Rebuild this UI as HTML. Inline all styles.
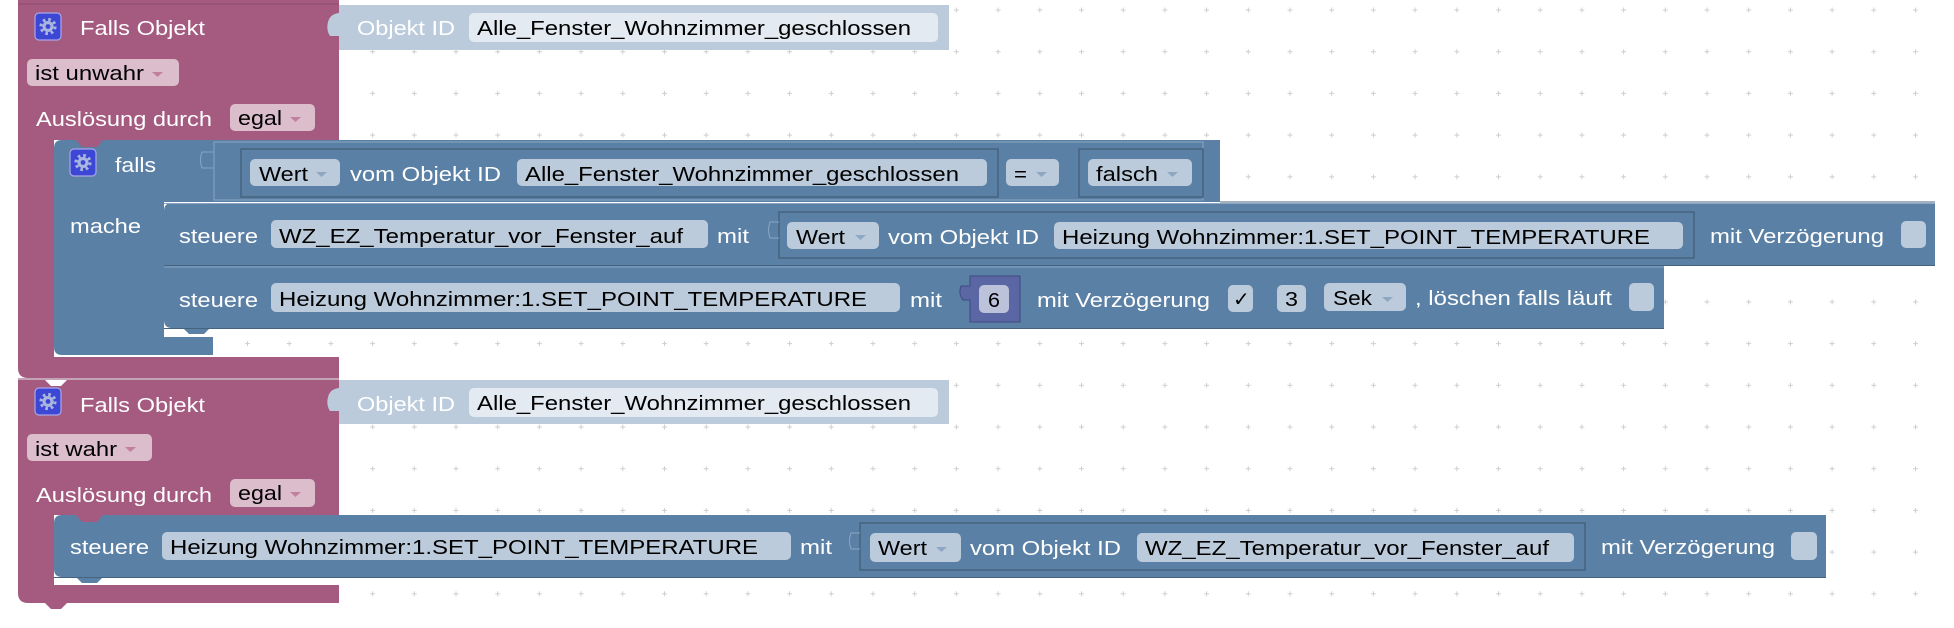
<!DOCTYPE html>
<html><head><meta charset="utf-8"><style>
html,body{margin:0;padding:0;background:#fff;}
svg{display:block;}
text{font-family:"Liberation Sans",Arial,sans-serif;font-size:20px;}
.w{fill:#fff;} .b{fill:#000;}
</style></head><body>
<svg width="1954" height="628" viewBox="0 0 1954 628" xmlns="http://www.w3.org/2000/svg">
<defs>
<pattern id="g" x="18.15" y="-10.85" width="41.7" height="41.7" patternUnits="userSpaceOnUse">
<path d="M18.35 20.85h5M20.85 18.35v5" stroke="#cfcfcf" stroke-width="1"/>
</pattern>
<g id="gear">
<rect x="0" y="0" width="26" height="27" rx="4" fill="#3d47d6" stroke="#a9a6e8" stroke-width="1.2"/>
<circle cx="13" cy="13.5" r="7" fill="none" stroke="#a9b6de" stroke-width="3.2" stroke-dasharray="2.6 2.9"/>
<circle cx="13" cy="13.5" r="5.5" fill="#a9b6de"/>
<circle cx="13" cy="13.5" r="2.4" fill="#3d47d6"/>
</g>
</defs>
<rect width="1954" height="628" fill="#fff"/>
<rect width="1954" height="628" fill="url(#g)"/>

<!-- ===== Block 1 pink ===== -->
<path d="M18 0H339V140H54V357H339V378H28Q18 378 18 368Z" fill="#a55b80"/>
<line x1="18" y1="4" x2="339" y2="4" stroke="#8a4a6a" stroke-width="1"/>
<use href="#gear" x="35" y="13"/>
<text class="w" x="80" y="35" textLength="125" lengthAdjust="spacingAndGlyphs">Falls Objekt</text>
<!-- objekt id -->
<path d="M339 5H949V50H339V36H330Q326 30 328 22Q330 14 339 13Z" fill="#bccbdb"/>
<text class="w" x="357" y="35" textLength="98" lengthAdjust="spacingAndGlyphs">Objekt ID</text>
<rect x="469" y="13" width="469" height="29" rx="5" fill="#e4eaf1"/>
<text class="b" x="477" y="35" textLength="434" lengthAdjust="spacingAndGlyphs">Alle_Fenster_Wohnzimmer_geschlossen</text>
<rect x="27" y="59" width="152" height="27" rx="5" fill="#dbbdcc"/>
<text class="b" x="35" y="80" textLength="109" lengthAdjust="spacingAndGlyphs">ist unwahr</text>
<path d="M152 72h11l-5.5 5z" fill="#c2809f"/>
<text class="w" x="36" y="126" textLength="176" lengthAdjust="spacingAndGlyphs">Auslösung durch</text>
<rect x="230" y="104" width="85" height="27" rx="5" fill="#dbbdcc"/>
<text class="b" x="238" y="125" textLength="44" lengthAdjust="spacingAndGlyphs">egal</text>
<path d="M290 117h11l-5.5 5z" fill="#c2809f"/>

<!-- falls block -->
<path d="M62 140H1220V202H164V337H213V355H62Q54 355 54 347V148Q54 140 62 140Z" fill="#5b80a5"/>
<path d="M76 140h27l-6 7h-15z" fill="#a55b80"/>
<use href="#gear" x="70" y="149"/>
<text class="w" x="115" y="172" textLength="41" lengthAdjust="spacingAndGlyphs">falls</text>
<text class="w" x="70" y="233" textLength="71" lengthAdjust="spacingAndGlyphs">mache</text>
<!-- compare -->
<rect x="214" y="142" width="989" height="58" fill="#5b80a5" stroke="#8aa6c3" stroke-width="1"/>
<path d="M213 152h-11q-3 8 0 16h11" fill="none" stroke="#8aa6c3" stroke-width="1"/>
<rect x="241" y="149" width="757" height="48" fill="#5b80a5" stroke="#46637f" stroke-width="1.5"/>
<rect x="250" y="159" width="90" height="27" rx="5" fill="#bccbdb"/>
<text class="b" x="259" y="181" textLength="49" lengthAdjust="spacingAndGlyphs">Wert</text>
<path d="M316 172h11l-5.5 5z" fill="#8ea7c2"/>
<text class="w" x="350" y="181" textLength="151" lengthAdjust="spacingAndGlyphs">vom Objekt ID</text>
<rect x="517" y="159" width="470" height="27" rx="5" fill="#bccbdb"/>
<text class="b" x="525" y="181" textLength="434" lengthAdjust="spacingAndGlyphs">Alle_Fenster_Wohnzimmer_geschlossen</text>
<rect x="1006" y="159" width="53" height="27" rx="5" fill="#bccbdb"/>
<text class="b" x="1014" y="181" textLength="13" lengthAdjust="spacingAndGlyphs">=</text>
<path d="M1036 172h11l-5.5 5z" fill="#8ea7c2"/>
<rect x="1079" y="149" width="124" height="48" fill="#5b80a5" stroke="#46637f" stroke-width="1.5"/>
<rect x="1088" y="159" width="104" height="27" rx="5" fill="#bccbdb"/>
<text class="b" x="1096" y="181" textLength="62" lengthAdjust="spacingAndGlyphs">falsch</text>
<path d="M1167 172h11l-5.5 5z" fill="#8ea7c2"/>

<!-- steuere 1 -->
<path d="M172 203H1935V266H164V211Q164 203 172 203Z" fill="#5b80a5"/>
<line x1="164" y1="203.5" x2="1935" y2="203.5" stroke="#8aa6c3" stroke-width="1"/>
<line x1="1220" y1="202" x2="1935" y2="202" stroke="#46637f" stroke-width="1"/>
<text class="w" x="179" y="243" textLength="79" lengthAdjust="spacingAndGlyphs">steuere</text>
<rect x="271" y="220" width="437" height="28" rx="5" fill="#bccbdb"/>
<text class="b" x="279" y="243" textLength="404" lengthAdjust="spacingAndGlyphs">WZ_EZ_Temperatur_vor_Fenster_auf</text>
<text class="w" x="717" y="243" textLength="32" lengthAdjust="spacingAndGlyphs">mit</text>
<rect x="779" y="212" width="915" height="46" fill="#5b80a5" stroke="#46637f" stroke-width="1.5"/>
<path d="M779 222h-9q-3 8 0 16h9" fill="none" stroke="#8aa6c3" stroke-width="1"/>
<rect x="787" y="222" width="92" height="27" rx="5" fill="#bccbdb"/>
<text class="b" x="796" y="244" textLength="49" lengthAdjust="spacingAndGlyphs">Wert</text>
<path d="M855 235h11l-5.5 5z" fill="#8ea7c2"/>
<text class="w" x="888" y="244" textLength="151" lengthAdjust="spacingAndGlyphs">vom Objekt ID</text>
<rect x="1054" y="222" width="629" height="27" rx="5" fill="#bccbdb"/>
<text class="b" x="1062" y="244" textLength="588" lengthAdjust="spacingAndGlyphs">Heizung Wohnzimmer:1.SET_POINT_TEMPERATURE</text>
<text class="w" x="1710" y="243" textLength="174" lengthAdjust="spacingAndGlyphs">mit Verzögerung</text>
<rect x="1901" y="221" width="25" height="27" rx="5" fill="#bccbdb"/>
<line x1="164" y1="265.5" x2="1935" y2="265.5" stroke="#46637f" stroke-width="1"/>

<!-- steuere 2 -->
<path d="M164 266H1664V328H210l-6 6h-15l-6-6H172Q164 328 164 320Z" fill="#5b80a5"/>
<line x1="164" y1="267" x2="1664" y2="267" stroke="#8aa6c3" stroke-width="1"/>
<text class="w" x="179" y="307" textLength="79" lengthAdjust="spacingAndGlyphs">steuere</text>
<rect x="271" y="283" width="629" height="29" rx="5" fill="#bccbdb"/>
<text class="b" x="279" y="306" textLength="588" lengthAdjust="spacingAndGlyphs">Heizung Wohnzimmer:1.SET_POINT_TEMPERATURE</text>
<text class="w" x="910" y="307" textLength="32" lengthAdjust="spacingAndGlyphs">mit</text>
<path d="M970 276H1020V322H970V300H963Q958 294 961 286H970Z" fill="#5b67a5" stroke="#3f4a80" stroke-width="1"/>
<rect x="979" y="285" width="30" height="28" rx="5" fill="#bdc2db"/>
<text class="b" x="988" y="307" textLength="12" lengthAdjust="spacingAndGlyphs">6</text>
<text class="w" x="1037" y="307" textLength="173" lengthAdjust="spacingAndGlyphs">mit Verzögerung</text>
<rect x="1228" y="285" width="25" height="27" rx="5" fill="#bccbdb"/>
<text class="b" x="1233" y="306" font-size="20">✓</text>
<rect x="1277" y="285" width="29" height="27" rx="5" fill="#bccbdb"/>
<text class="b" x="1285" y="306" textLength="13" lengthAdjust="spacingAndGlyphs">3</text>
<rect x="1324" y="283" width="82" height="28" rx="5" fill="#bccbdb"/>
<text class="b" x="1333" y="305" textLength="39" lengthAdjust="spacingAndGlyphs">Sek</text>
<path d="M1382 297h11l-5.5 5z" fill="#8ea7c2"/>
<text class="w" x="1415" y="305" textLength="197" lengthAdjust="spacingAndGlyphs">, löschen falls läuft</text>
<rect x="1629" y="283" width="25" height="28" rx="5" fill="#bccbdb"/>
<line x1="164" y1="328.5" x2="1664" y2="328.5" stroke="#46637f" stroke-width="1"/>

<!-- ===== Block 2 pink ===== -->
<path d="M18 380H45l6 6h10l6-6H339V515H54V585H339V603H67l-6 6h-10l-6-6H28Q18 603 18 593Z" fill="#a55b80"/>
<line x1="18" y1="379" x2="339" y2="379" stroke="#8a4a6a" stroke-width="1"/>
<use href="#gear" x="35" y="388"/>
<text class="w" x="80" y="412" textLength="125" lengthAdjust="spacingAndGlyphs">Falls Objekt</text>
<path d="M339 380H949V424H339V411H330Q326 405 328 397Q330 389 339 388Z" fill="#bccbdb"/>
<text class="w" x="357" y="411" textLength="98" lengthAdjust="spacingAndGlyphs">Objekt ID</text>
<rect x="469" y="388" width="469" height="29" rx="5" fill="#e4eaf1"/>
<text class="b" x="477" y="410" textLength="434" lengthAdjust="spacingAndGlyphs">Alle_Fenster_Wohnzimmer_geschlossen</text>
<rect x="27" y="434" width="125" height="27" rx="5" fill="#dbbdcc"/>
<text class="b" x="35" y="456" textLength="82" lengthAdjust="spacingAndGlyphs">ist wahr</text>
<path d="M125 447h11l-5.5 5z" fill="#c2809f"/>
<text class="w" x="36" y="502" textLength="176" lengthAdjust="spacingAndGlyphs">Auslösung durch</text>
<rect x="230" y="479" width="85" height="28" rx="5" fill="#dbbdcc"/>
<text class="b" x="238" y="500" textLength="44" lengthAdjust="spacingAndGlyphs">egal</text>
<path d="M290 492h11l-5.5 5z" fill="#c2809f"/>

<!-- steuere block 3 -->
<path d="M62 515H1826V577H103l-6 6h-15l-6-6H62Q54 577 54 569V523Q54 515 62 515Z" fill="#5b80a5"/>
<path d="M76 515h27l-6 7h-15z" fill="#a55b80"/>
<text class="w" x="70" y="554" textLength="79" lengthAdjust="spacingAndGlyphs">steuere</text>
<rect x="162" y="532" width="629" height="28" rx="5" fill="#bccbdb"/>
<text class="b" x="170" y="554" textLength="588" lengthAdjust="spacingAndGlyphs">Heizung Wohnzimmer:1.SET_POINT_TEMPERATURE</text>
<text class="w" x="800" y="554" textLength="32" lengthAdjust="spacingAndGlyphs">mit</text>
<rect x="860" y="523" width="725" height="47" fill="#5b80a5" stroke="#46637f" stroke-width="1.5"/>
<path d="M860 533h-9q-3 8 0 16h9" fill="none" stroke="#8aa6c3" stroke-width="1"/>
<rect x="870" y="533" width="91" height="29" rx="5" fill="#bccbdb"/>
<text class="b" x="878" y="555" textLength="49" lengthAdjust="spacingAndGlyphs">Wert</text>
<path d="M936 547h11l-5.5 5z" fill="#8ea7c2"/>
<text class="w" x="970" y="555" textLength="151" lengthAdjust="spacingAndGlyphs">vom Objekt ID</text>
<rect x="1137" y="533" width="437" height="29" rx="5" fill="#bccbdb"/>
<text class="b" x="1145" y="555" textLength="404" lengthAdjust="spacingAndGlyphs">WZ_EZ_Temperatur_vor_Fenster_auf</text>
<text class="w" x="1601" y="554" textLength="174" lengthAdjust="spacingAndGlyphs">mit Verzögerung</text>
<rect x="1791" y="532" width="26" height="28" rx="5" fill="#bccbdb"/>
<line x1="54" y1="577.5" x2="1826" y2="577.5" stroke="#46637f" stroke-width="1"/>
</svg>
</body></html>
